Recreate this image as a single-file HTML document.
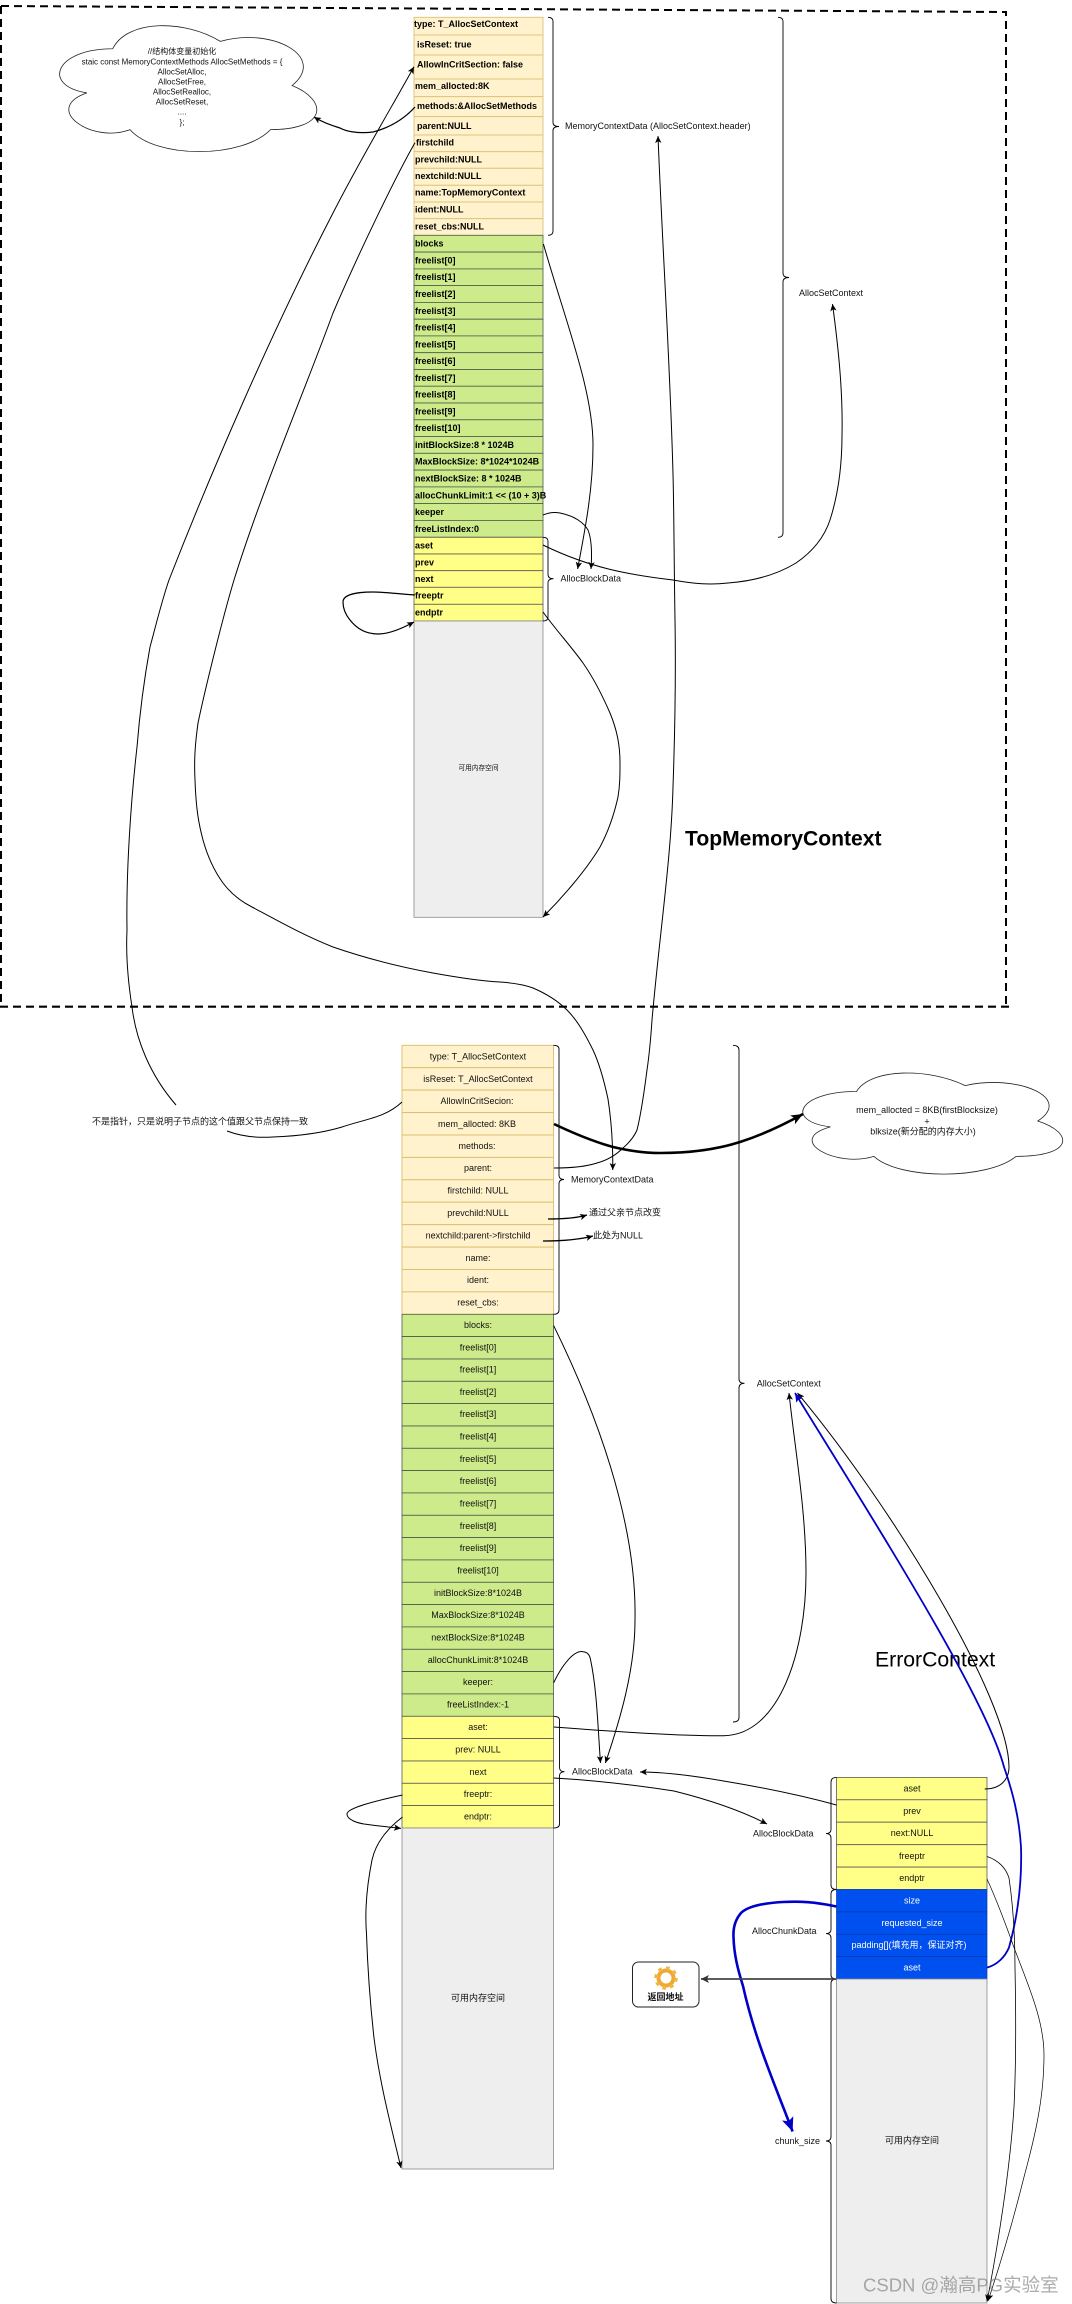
<!DOCTYPE html>
<html><head><meta charset="utf-8"><style>
html,body{margin:0;padding:0;background:#fff;width:1072px;height:2304px;overflow:hidden}
svg{display:block;filter:blur(.3px)}
text{font-family:"Liberation Sans","Noto Sans CJK SC",sans-serif;dominant-baseline:central;fill:#111}
.t1 text{font-size:9px;font-weight:bold;fill:#000}
.c text{text-anchor:middle;font-size:9px}
.l{font-size:9px}
.m{text-anchor:middle}
.w text{fill:#fff}
path.e{fill:none;stroke:#000;stroke-width:1}
</style></head><body>
<svg width="1072" height="2304" viewBox="0 0 1072 2304" xmlns="http://www.w3.org/2000/svg">
<defs>
<marker id="a" markerUnits="userSpaceOnUse" markerWidth="8" markerHeight="8" refX="7" refY="4" orient="auto"><path d="M0,.8 L7,4 L0,7.2 L1.7,4Z" fill="#000"/></marker>
<marker id="ab" markerUnits="userSpaceOnUse" markerWidth="14" markerHeight="14" refX="12" refY="7" orient="auto"><path d="M0,2 L12,7 L0,12 L3,7Z" fill="#000"/></marker>
<marker id="bl" markerUnits="userSpaceOnUse" markerWidth="10" markerHeight="10" refX="9" refY="5" orient="auto"><path d="M0,1 L9,5 L0,9 L2,5Z" fill="#0000c8"/></marker>
<marker id="blb" markerUnits="userSpaceOnUse" markerWidth="16" markerHeight="16" refX="14" refY="8" orient="auto"><path d="M0,2 L14,8 L0,14 L3,8Z" fill="#0000c8"/></marker>
<marker id="g" markerUnits="userSpaceOnUse" markerWidth="9" markerHeight="9" refX="8" refY="4.5" orient="auto"><path d="M0,.5 L8,4.5 L0,8.5 L2,4.5Z" fill="#333"/></marker>
</defs>

<!-- dashed frame -->
<path d="M1,6 L1006,12 L1006,1006" fill="none" stroke="#000" stroke-width="2" stroke-dasharray="8 5"/>
<path d="M1,6 L1,1007" fill="none" stroke="#000" stroke-width="2" stroke-dasharray="8 5"/>
<path d="M0,1006.7 L1011,1006.7" fill="none" stroke="#000" stroke-width="2.2" stroke-dasharray="8 5"/>

<!-- TABLE 1 -->
<g fill="#fff2cc" stroke="#dcc27a" stroke-width=".9">
<rect x="414" y="17.3" width="129" height="17.7"/><rect x="414" y="35" width="129" height="20"/><rect x="414" y="55" width="129" height="24"/><rect x="414" y="79" width="129" height="17.7"/><rect x="414" y="96.7" width="129" height="20"/><rect x="414" y="116.7" width="129" height="18.3"/><rect x="414" y="135" width="129" height="16.7"/><rect x="414" y="151.7" width="129" height="16.6"/><rect x="414" y="168.3" width="129" height="17"/><rect x="414" y="185.3" width="129" height="16.7"/><rect x="414" y="202" width="129" height="16.7"/><rect x="414" y="218.7" width="129" height="16.6"/>
</g>
<g fill="#cdeb8b" stroke="#4d5a45" stroke-width=".8">
<rect x="414" y="235.3" width="129" height="16.8"/><rect x="414" y="252.1" width="129" height="16.8"/><rect x="414" y="268.9" width="129" height="16.8"/><rect x="414" y="285.6" width="129" height="16.8"/><rect x="414" y="302.4" width="129" height="16.8"/><rect x="414" y="319.2" width="129" height="16.8"/><rect x="414" y="335.9" width="129" height="16.8"/><rect x="414" y="352.7" width="129" height="16.8"/><rect x="414" y="369.5" width="129" height="16.8"/><rect x="414" y="386.2" width="129" height="16.8"/><rect x="414" y="403" width="129" height="16.8"/><rect x="414" y="419.8" width="129" height="16.8"/><rect x="414" y="436.5" width="129" height="16.8"/><rect x="414" y="453.3" width="129" height="16.8"/><rect x="414" y="470.1" width="129" height="16.8"/><rect x="414" y="486.9" width="129" height="16.8"/><rect x="414" y="503.6" width="129" height="16.8"/><rect x="414" y="520.4" width="129" height="16.8"/>
</g>
<g fill="#ffff88" stroke="#5a5a50" stroke-width=".8">
<rect x="414" y="537.3" width="129" height="16.7"/><rect x="414" y="554" width="129" height="16.7"/><rect x="414" y="570.7" width="129" height="16.6"/><rect x="414" y="587.3" width="129" height="17"/><rect x="414" y="604.3" width="129" height="16.7"/>
</g>
<rect x="414" y="621" width="129" height="296.3" fill="#eeeeee" stroke="#8a8a8a" stroke-width=".8"/>
<g class="t1">
<text x="414" y="24">type: T_AllocSetContext</text>
<text x="417" y="44.5">isReset: true</text>
<text x="417" y="64.5">AllowInCritSection: false</text>
<text x="415" y="86">mem_allocted:8K</text>
<text x="417" y="106">methods:&amp;AllocSetMethods</text>
<text x="417" y="126">parent:NULL</text>
<text x="416" y="142.7">firstchild</text>
<text x="415" y="159.5">prevchild:NULL</text>
<text x="415" y="176">nextchild:NULL</text>
<text x="415" y="192.7">name:TopMemoryContext</text>
<text x="415" y="209.7">ident:NULL</text>
<text x="415" y="226.7">reset_cbs:NULL</text>
<text x="415" y="243.7">blocks</text>
<text x="415" y="260.5">freelist[0]</text>
<text x="415" y="277.2">freelist[1]</text>
<text x="415" y="294">freelist[2]</text>
<text x="415" y="310.8">freelist[3]</text>
<text x="415" y="327.5">freelist[4]</text>
<text x="415" y="344.3">freelist[5]</text>
<text x="415" y="361.1">freelist[6]</text>
<text x="415" y="377.9">freelist[7]</text>
<text x="415" y="394.6">freelist[8]</text>
<text x="415" y="411.4">freelist[9]</text>
<text x="415" y="428.2">freelist[10]</text>
<text x="415" y="445">initBlockSize:8 * 1024B</text>
<text x="415" y="461.7">MaxBlockSize: 8*1024*1024B</text>
<text x="415" y="478.5">nextBlockSize: 8 * 1024B</text>
<text x="415" y="495.3">allocChunkLimit:1 &lt;&lt; (10 + 3)B</text>
<text x="415" y="512">keeper</text>
<text x="415" y="528.8">freeListIndex:0</text>
<text x="415" y="545.5">aset</text>
<text x="415" y="562.3">prev</text>
<text x="415" y="579">next</text>
<text x="415" y="595.7">freeptr</text>
<text x="415" y="612.5">endptr</text>
</g>
<text x="478.5" y="768.5" class="m" style="font-size:6.7px">可用内存空间</text>

<!-- TABLE 2 -->
<g fill="#fff2cc" stroke="#d9bd6c" stroke-width=".9">
<rect x="402" y="1045.3" width="151.5" height="22.4"/><rect x="402" y="1067.7" width="151.5" height="22.4"/><rect x="402" y="1090.1" width="151.5" height="22.5"/><rect x="402" y="1112.6" width="151.5" height="22.4"/><rect x="402" y="1135" width="151.5" height="22.4"/><rect x="402" y="1157.4" width="151.5" height="22.4"/><rect x="402" y="1179.8" width="151.5" height="22.4"/><rect x="402" y="1202.2" width="151.5" height="22.5"/><rect x="402" y="1224.7" width="151.5" height="22.4"/><rect x="402" y="1247.1" width="151.5" height="22.4"/><rect x="402" y="1269.5" width="151.5" height="22.4"/><rect x="402" y="1291.9" width="151.5" height="22.4"/>
</g>
<g fill="#cdeb8b" stroke="#4d5a45" stroke-width=".8">
<rect x="402" y="1314.3" width="151.5" height="22.3"/><rect x="402" y="1336.6" width="151.5" height="22.4"/><rect x="402" y="1359" width="151.5" height="22.3"/><rect x="402" y="1381.3" width="151.5" height="22.3"/><rect x="402" y="1403.6" width="151.5" height="22.4"/><rect x="402" y="1426" width="151.5" height="22.3"/><rect x="402" y="1448.3" width="151.5" height="22.3"/><rect x="402" y="1470.6" width="151.5" height="22.3"/><rect x="402" y="1492.9" width="151.5" height="22.4"/><rect x="402" y="1515.3" width="151.5" height="22.3"/><rect x="402" y="1537.6" width="151.5" height="22.3"/><rect x="402" y="1559.9" width="151.5" height="22.4"/><rect x="402" y="1582.3" width="151.5" height="22.3"/><rect x="402" y="1604.6" width="151.5" height="22.3"/><rect x="402" y="1626.9" width="151.5" height="22.4"/><rect x="402" y="1649.3" width="151.5" height="22.3"/><rect x="402" y="1671.6" width="151.5" height="22.3"/><rect x="402" y="1693.9" width="151.5" height="22.4"/>
</g>
<g fill="#ffff88" stroke="#5a5a50" stroke-width=".8">
<rect x="402" y="1716.3" width="151.5" height="22.3"/><rect x="402" y="1738.6" width="151.5" height="22.4"/><rect x="402" y="1761" width="151.5" height="22.3"/><rect x="402" y="1783.3" width="151.5" height="22.3"/><rect x="402" y="1805.6" width="151.5" height="22.4"/>
</g>
<rect x="402" y="1828" width="151.5" height="341" fill="#eeeeee" stroke="#8a8a8a" stroke-width=".8"/>
<g class="c">
<text x="478" y="1056.5">type: T_AllocSetContext</text>
<text x="478" y="1079">isReset: T_AllocSetContext</text>
<text x="477" y="1101">AllowInCritSecion:</text>
<text x="477" y="1123.8">mem_allocted: 8KB</text>
<text x="477" y="1146">methods:</text>
<text x="478" y="1168">parent:</text>
<text x="478" y="1190.5">firstchild: NULL</text>
<text x="478" y="1213">prevchild:NULL</text>
<text x="478" y="1235.5">nextchild:parent-&gt;firstchild</text>
<text x="478" y="1258">name:</text>
<text x="478" y="1280">ident:</text>
<text x="478" y="1302.5">reset_cbs:</text>
<text x="478" y="1325">blocks:</text>
<text x="478" y="1347.5">freelist[0]</text>
<text x="478" y="1369.5">freelist[1]</text>
<text x="478" y="1392">freelist[2]</text>
<text x="478" y="1414">freelist[3]</text>
<text x="478" y="1436.5">freelist[4]</text>
<text x="478" y="1459">freelist[5]</text>
<text x="478" y="1481">freelist[6]</text>
<text x="478" y="1503.5">freelist[7]</text>
<text x="478" y="1526">freelist[8]</text>
<text x="478" y="1548">freelist[9]</text>
<text x="478" y="1570.5">freelist[10]</text>
<text x="478" y="1593">initBlockSize:8*1024B</text>
<text x="478" y="1615">MaxBlockSize:8*1024B</text>
<text x="478" y="1637.5">nextBlockSize:8*1024B</text>
<text x="478" y="1660">allocChunkLimit:8*1024B</text>
<text x="478" y="1682">keeper:</text>
<text x="478" y="1704.5">freeListIndex:-1</text>
<text x="478" y="1727">aset:</text>
<text x="478" y="1749.5">prev: NULL</text>
<text x="478" y="1772">next</text>
<text x="478" y="1794">freeptr:</text>
<text x="478" y="1816.5">endptr:</text>
<text x="478" y="1998">可用内存空间</text>
</g>

<!-- TABLE 3 -->
<g fill="#ffff88" stroke="#5a5a50" stroke-width=".8">
<rect x="836.5" y="1777.4" width="150.5" height="22.4"/><rect x="836.5" y="1799.8" width="150.5" height="22.4"/><rect x="836.5" y="1822.2" width="150.5" height="22.5"/><rect x="836.5" y="1844.7" width="150.5" height="22.4"/><rect x="836.5" y="1867.1" width="150.5" height="22.4"/>
</g>
<g fill="#0050ef" stroke="#0a38b0" stroke-width=".7">
<rect x="836.5" y="1889.5" width="150.5" height="22.4"/><rect x="836.5" y="1911.9" width="150.5" height="22.4"/><rect x="836.5" y="1934.3" width="150.5" height="22.3"/><rect x="836.5" y="1956.6" width="150.5" height="22.4"/>
</g>
<rect x="836.5" y="1979" width="150.5" height="324" fill="#eeeeee" stroke="#8a8a8a" stroke-width=".8"/>
<g class="c">
<text x="912" y="1788.5">aset</text>
<text x="912" y="1811">prev</text>
<text x="912" y="1833">next:NULL</text>
<text x="912" y="1856">freeptr</text>
<text x="912" y="1878">endptr</text>
<text x="912" y="2140.5">可用内存空间</text>
</g>
<g class="c w">
<text x="912" y="1900.5">size</text>
<text x="912" y="1923">requested_size</text>
<text x="909" y="1945">padding[](填充用，保证对齐)</text>
<text x="912" y="1967.5">aset</text>
</g>

<!-- braces -->
<g fill="none" stroke="#000" stroke-width=".9">
<path d="M548,17.3 Q553,17.3 553,21.5 L553,122.5 Q553,126.5 559,126.5 Q553,126.5 553,130.5 L553,231 Q553,235.3 548,235.3"/>
<path d="M778,17.3 Q783,17.3 783,21.5 L783,273 Q783,277.5 789,277.5 Q783,277.5 783,282 L783,533 Q783,537.3 778,537.3"/>
<path d="M543,537.3 Q548,537.3 548,541 L548,574.5 Q548,578.7 553.5,578.7 Q548,578.7 548,583 L548,617 Q548,621 543,621"/>
<path d="M553.5,1045.3 Q559,1045.3 559,1049 L559,1175 Q559,1179.5 564,1179.5 Q559,1179.5 559,1184 L559,1310 Q559,1314.3 553.5,1314.3"/>
<path d="M733,1045.3 Q739,1045.3 739,1050 L739,1379 Q739,1383.3 744.5,1383.3 Q739,1383.3 739,1388 L739,1717.5 Q739,1722 733,1722"/>
<path d="M553.5,1716.3 Q559.5,1716.3 559.5,1720 L559.5,1767.5 Q559.5,1771.7 564.5,1771.7 Q559.5,1771.7 559.5,1776 L559.5,1824 Q559.5,1828 553.5,1828"/>
<path d="M836.5,1777.4 Q831,1777.4 831,1782 L831,1829.5 Q831,1833.6 826,1833.6 Q831,1833.6 831,1838 L831,1885 Q831,1889.5 836.5,1889.5"/>
<path d="M836.5,1889.5 Q831,1889.5 831,1894 L831,1929.5 Q831,1933.6 826,1933.6 Q831,1933.6 831,1938 L831,1975 Q831,1979 836.5,1979"/>
<path d="M836.5,1979 Q831,1979 831,1983.5 L831,2136.5 Q831,2141 826,2141 Q831,2141 831,2145.5 L831,2298.5 Q831,2303 836.5,2303"/>
</g>

<!-- labels -->
<text x="565" y="126" class="l">MemoryContextData (AllocSetContext.header)</text>
<text x="799" y="293" class="l">AllocSetContext</text>
<text x="560.5" y="578.7" class="l">AllocBlockData</text>
<text x="571" y="1179.3" class="l">MemoryContextData</text>
<text x="589" y="1212.7" class="l">通过父亲节点改变</text>
<text x="593" y="1235.5" class="l">此处为NULL</text>
<text x="92" y="1121.7" class="l">不是指针，只是说明子节点的这个值跟父节点保持一致</text>
<text x="756.7" y="1383.3" class="l">AllocSetContext</text>
<text x="572" y="1771.7" class="l">AllocBlockData</text>
<text x="753" y="1833.3" class="l">AllocBlockData</text>
<text x="752" y="1931" class="l">AllocChunkData</text>
<text x="775" y="2141" class="l">chunk_size</text>
<text x="685" y="839" style="font-size:21.1px;font-weight:bold;fill:#000">TopMemoryContext</text>
<text x="875" y="1660" style="font-size:21.2px;fill:#000">ErrorContext</text>

<!-- clouds -->
<path d="M112.75,48.75 C55.35,48.75 41,85.5 86.9,92.85 C41,109 92.7,144.3 130,129.6 C155.8,159 241.9,159 270.6,129.6 C328,129.6 328,100.2 292.1,85.5 C328,56.1 270.6,26.7 220.4,41.4 C184.5,19.35 127.1,19.35 112.75,48.75Z" fill="#fff" stroke="#222" stroke-width=".8"/>
<text x="182" y="51.7" class="m" style="font-size:8px">//结构体变量初始化</text>
<text x="182" y="62" class="m" style="font-size:8px">staic const MemoryContextMethods AllocSetMethods = {</text>
<text x="182" y="72" class="m" style="font-size:8px">AllocSetAlloc,</text>
<text x="182" y="82" class="m" style="font-size:8px">AllocSetFree,</text>
<text x="182" y="92" class="m" style="font-size:8px">AllocSetRealloc,</text>
<text x="182" y="102" class="m" style="font-size:8px">AllocSetReset,</text>
<text x="182" y="112" class="m" style="font-size:8px">....</text>
<text x="182" y="122.7" class="m" style="font-size:8px">};</text>
<path d="M856.5,1091.5 C798.5,1091.5 784,1121 830.4,1126.9 C784,1139.9 836.2,1168.2 873.9,1156.4 C900,1180 987,1180 1016,1156.4 C1074,1156.4 1074,1132.8 1037.8,1121 C1074,1097.4 1016,1073.8 965.25,1085.6 C929,1067.9 871,1067.9 856.5,1091.5Z" fill="#fff" stroke="#222" stroke-width=".8"/>
<text x="927" y="1110" class="m l">mem_allocted = 8KB(firstBlocksize)</text>
<text x="927" y="1121.3" class="m l">+</text>
<text x="923" y="1131.5" class="m l">blksize(新分配的内存大小)</text>

<!-- return box -->
<rect x="632.5" y="1962" width="66.5" height="45" rx="6" fill="#fff" stroke="#222" stroke-width="1"/>
<circle cx="666" cy="1978" r="7.5" fill="none" stroke="#eeaa30" stroke-width="4"/>
<circle cx="666" cy="1978" r="10" fill="none" stroke="#f2b648" stroke-width="3.5" stroke-dasharray="3.6 4.2"/>
<circle cx="666" cy="1978" r="3" fill="#fff"/>
<text x="665.5" y="1997" class="m" style="font-size:9px;font-weight:bold">返回地址</text>

<!-- connectors -->
<path class="e" marker-end="url(#a)" d="M176,1105 C150,1075 136,1040 132,1007 C127,975 126,950 127,930 C126,870 131,800 137,747 C140,710 144,680 150,647 C156,625 162,600 169,580 C210,475 270,335 333,213 C360,160 390,110 414,66.7"/>
<path class="e" d="M227,1131 C243,1137 258,1138 273,1137 C300,1136 322,1133 342,1127 C365,1119 385,1118 402,1102"/>
<path class="e" marker-end="url(#a)" d="M415,142.7 C398,172 360,250 333,313 C305,390 262,490 234,580 C222,620 205,690 198,723 C195,745 194,760 195,780 C196,810 199,825 203,840 C208,858 215,872 223,883 C232,895 242,902 252,907 C280,922 305,936 333,947 C365,958 400,967 433,973 C455,977 480,981 500,982 C515,983 525,985 533,988 C547,994 558,1001 567,1010 C578,1021 586,1036 593,1050 C600,1065 605,1085 608,1099 C612,1125 613,1150 612.7,1170"/>
<path class="e" style="stroke-width:1.3" marker-end="url(#a)" d="M415,107 C405,118 392,127 373,132 C358,134 345,131 340,128 C330,125 322,122 314,117"/>
<path class="e" marker-end="url(#a)" d="M543.4,244 C565,320 593,390 593,445 C593,490 585,530 577.6,569"/>
<path class="e" marker-end="url(#a)" d="M543,515 C550,512 555,512 560,513 C575,516 584,523 588,530 C592,540 592,555 591,569"/>
<path class="e" marker-end="url(#a)" d="M543,545 C590,568 630,575 673,580 C695,584 710,585 728,583 C755,581 778,574 796,563 C815,550 825,535 830,520 C838,495 842,465 842,435 C843,390 838,345 832.5,304"/>
<path class="e" style="stroke-width:1.2" marker-end="url(#a)" d="M415,595 C400,594 385,592 373,592 C355,592 343,595 343,602 C343,608 345,614 350,620 C357,629 366,634 378,634 C390,634 403,628 414,622"/>
<path class="e" marker-end="url(#a)" d="M543,612 C556,630 570,645 583,663 C595,680 603,697 610,713 C617,730 620,745 620,763 C620,775 620,785 618,797 C614,815 608,832 600,847 C585,872 560,900 543,917"/>
<path class="e" marker-end="url(#a)" d="M554,1168 C570,1168 585,1167 597,1163 C608,1160 616,1155 623,1148 C630,1142 634,1137 637,1130 C642,1110 645,1085 647,1070 C650,1050 651,1035 652,1020 C660,930 671,860 673,787 C675,730 676,680 675,620 C674,560 674,510 673,474 C670,360 662,240 658,136"/>
<path class="e" style="stroke-width:2.6" marker-end="url(#ab)" d="M554,1124 C575,1134 595,1142 613,1147 C630,1151 645,1153 660,1153 C690,1153 715,1150 740,1142 C765,1134 785,1124 803,1114"/>
<path class="e" style="stroke-width:1.2" marker-end="url(#a)" d="M548,1219 C565,1219 577,1218 587,1215"/>
<path class="e" style="stroke-width:1.2" marker-end="url(#a)" d="M543,1241 C560,1241 578,1240 593,1236"/>
<path class="e" marker-end="url(#a)" d="M553.7,1325.7 C595,1410 637,1520 635,1620 C635,1670 620,1720 605.4,1763"/>
<path class="e" marker-end="url(#a)" d="M553.7,1682.7 C562,1665 574,1650 583,1651.7 C588,1652 590,1656 590.6,1660 C597,1690 598,1730 600.5,1763"/>
<path class="e" marker-end="url(#a)" d="M553.7,1727 C620,1732 680,1736 723.6,1735.7 C780,1735 806,1650 806,1573 C806,1510 795,1450 789,1393"/>
<path class="e" marker-end="url(#a)" d="M984.7,1789 C1000,1789 1009,1780 1009,1767 C1009,1700 895,1510 797.5,1393"/>
<path class="e" style="stroke:#0000c8;stroke-width:1.8" marker-end="url(#bl)" d="M987,1967.6 C997,1965 1005,1957 1009,1947.5 C1018,1915 1022,1880 1021,1847 C1019,1815 1012,1790 1004,1767 C985,1695 870,1515 795,1393"/>
<path class="e" style="stroke:#0000c8;stroke-width:2.6" marker-end="url(#blb)" d="M836.5,1906.5 C815,1902 800,1901 783,1902 C765,1903 748,1906 741,1913 C735,1920 733,1928 733.5,1937 C734,1955 738,1970 743,1986 C755,2040 775,2085 792.6,2131.5"/>
<path class="e" marker-end="url(#a)" d="M836.5,1805 C800,1795 760,1787 723.6,1781 C695,1776 665,1772 640,1772"/>
<path class="e" marker-end="url(#a)" d="M553.7,1778 C590,1780 635,1785 674,1791 C710,1800 740,1810 767,1824"/>
<path class="e" marker-end="url(#a)" d="M402.5,1795 C375,1801 347,1808 347,1814 C347,1820 358,1823 364,1824 C378,1826 390,1827 401,1828.4"/>
<path class="e" marker-end="url(#a)" d="M402.5,1817 C388,1828 376,1842 372,1860 C366,1890 365,1915 366.5,1934 C368,1980 372,2020 374,2038 C380,2085 392,2130 401,2168"/>
<path class="e" style="stroke-width:.8" marker-end="url(#a)" d="M987,1856.5 C998,1860 1006,1868 1009,1878 C1013,1905 1015,1935 1015,1968 C1016,2015 1016,2065 1014,2107 C1010,2170 998,2245 987,2301.6"/>
<path class="e" style="stroke-width:.7" marker-end="url(#a)" d="M987,1879 C998,1903 1006,1925 1014,1947.5 C1028,1985 1044,2020 1044,2055 C1044,2100 1034,2140 1024,2177 C1012,2225 1000,2265 988,2301"/>
<path class="e" style="stroke:#444;stroke-width:1.7" marker-end="url(#g)" d="M836.5,1979 L701,1979"/>

<!-- watermark -->
<text x="863" y="2285" style="font-size:18.5px;fill:rgba(120,120,120,.62)">CSDN @瀚高PG实验室</text>
</svg>
</body></html>
